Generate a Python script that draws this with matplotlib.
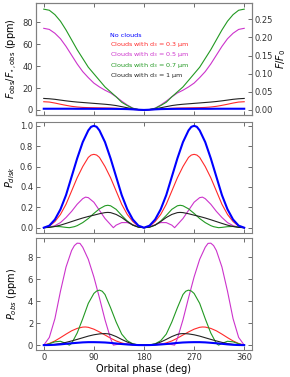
import numpy as np
import matplotlib
matplotlib.use("Agg")
import matplotlib.pyplot as plt

# half orbit (0-180 deg); curves are mirrored about 180 deg
# --- top panel: F_obs / F_star,obs (ppm)
ph_flux = [0, 10, 20, 30, 40, 50, 60, 70, 80, 90, 100, 110, 120, 130, 140, 150, 160, 170, 180]
flux_none = [1.1, 1.1, 1.1, 1.1, 1.1, 1.1, 1.05, 1.05, 1.05, 1.0, 1.0, 1.0, 1.0, 0.95, 0.9, 0.8, 0.55, 0.2, 0.0]
flux_03 = [7.5, 7.2, 6.3, 5.2, 4.2, 3.3, 2.7, 2.3, 2.1, 2.0, 1.9, 1.8, 1.7, 1.5, 1.2, 0.9, 0.5, 0.15, 0.0]
flux_05 = [74.5, 73.5, 70, 65, 58, 50, 42, 35, 29.5, 24.5, 21, 18, 15.5, 12, 8, 4.5, 1.6, 0.4, 0.0]
flux_07 = [92, 91, 87, 81, 73, 64, 55, 47, 39, 33, 27, 21, 16.5, 12, 7, 4, 1.5, 0.4, 0.0]
flux_1 = [10.5, 10.2, 9.7, 9.0, 8.3, 7.7, 7.2, 6.8, 6.4, 6.0, 5.6, 5.2, 4.7, 4.0, 3.0, 2.0, 1.0, 0.3, 0.0]

# --- middle panel: P_disk
ph_disk = [0, 10, 20, 30, 40, 50, 60, 70, 80, 85, 90, 95, 100, 110, 120, 130, 140, 150, 160, 170, 180]
disk_none = [0, 0.02, 0.08, 0.18, 0.32, 0.5, 0.68, 0.84, 0.955, 0.99, 1.0, 0.99, 0.955, 0.84, 0.68, 0.5, 0.32, 0.18, 0.08, 0.02, 0]
disk_03 = [0, 0.015, 0.06, 0.13, 0.23, 0.36, 0.49, 0.6, 0.69, 0.713, 0.72, 0.713, 0.69, 0.6, 0.49, 0.36, 0.23, 0.13, 0.06, 0.015, 0]
ph_disk_05 = [0, 10, 20, 30, 40, 50, 60, 70, 75, 80, 90, 100, 110, 120, 125, 130, 140, 150, 160, 170, 180]
disk_05 = [0, 0.005, 0.02, 0.05, 0.1, 0.16, 0.23, 0.285, 0.3, 0.295, 0.25, 0.17, 0.09, 0.03, 0.0, 0.025, 0.05, 0.05, 0.03, 0.01, 0]
ph_disk_07 = [0, 10, 20, 30, 40, 46, 55, 60, 70, 80, 90, 100, 110, 115, 120, 130, 140, 150, 160, 170, 180]
disk_07 = [0, 0.005, 0.012, 0.01, 0.003, 0.0, 0.01, 0.02, 0.05, 0.09, 0.14, 0.185, 0.215, 0.22, 0.215, 0.18, 0.12, 0.065, 0.025, 0.005, 0]
ph_disk_1 = [0, 10, 20, 30, 40, 50, 60, 70, 80, 90, 100, 110, 115, 120, 130, 140, 150, 160, 170, 180]
disk_1 = [0, 0.003, 0.012, 0.025, 0.042, 0.06, 0.078, 0.095, 0.11, 0.123, 0.137, 0.148, 0.15, 0.148, 0.13, 0.1, 0.06, 0.025, 0.005, 0]

# --- bottom panel: P_obs (ppm)
ph_obs = [0, 10, 20, 30, 40, 50, 60, 70, 80, 90, 100, 110, 120, 130, 140, 150, 160, 170, 180]
obs_none = [0, 0.01, 0.03, 0.07, 0.12, 0.17, 0.21, 0.25, 0.27, 0.27, 0.26, 0.24, 0.2, 0.15, 0.1, 0.06, 0.025, 0.006, 0]
ph_obs_03 = [0, 10, 20, 30, 40, 50, 60, 70, 75, 80, 90, 100, 110, 120, 130, 140, 150, 160, 170, 180]
obs_03 = [0, 0.15, 0.38, 0.68, 1.0, 1.3, 1.52, 1.64, 1.65, 1.62, 1.45, 1.2, 0.92, 0.63, 0.38, 0.2, 0.08, 0.03, 0.005, 0]
ph_obs_05 = [0, 10, 20, 30, 40, 50, 55, 60, 65, 70, 80, 90, 100, 110, 120, 125, 130, 140, 150, 160, 170, 180]
obs_05 = [0, 0.7, 2.4, 4.9, 7.1, 8.6, 9.05, 9.27, 9.25, 8.9, 7.8, 6.2, 4.3, 2.3, 0.6, 0.0, 0.05, 0.12, 0.12, 0.07, 0.02, 0]
ph_obs_07 = [0, 10, 20, 30, 40, 46, 50, 60, 70, 80, 90, 95, 100, 105, 110, 120, 130, 140, 150, 160, 170, 180]
obs_07 = [0, 0.12, 0.3, 0.35, 0.15, 0.0, 0.15, 1.1, 2.4, 3.8, 4.7, 4.92, 5.0, 4.9, 4.6, 3.4, 2.1, 1.0, 0.4, 0.12, 0.02, 0]
ph_obs_1 = [0, 10, 20, 30, 40, 50, 60, 70, 80, 90, 100, 105, 110, 115, 120, 130, 140, 150, 160, 170, 180]
obs_1 = [0, 0.02, 0.07, 0.14, 0.25, 0.38, 0.52, 0.67, 0.82, 0.94, 1.02, 1.04, 1.05, 1.03, 0.98, 0.78, 0.52, 0.28, 0.1, 0.02, 0]

labels = ["No clouds", "Clouds with d$_3$ = 0.3 µm", "Clouds with d$_3$ = 0.5 µm",
          "Clouds with d$_3$ = 0.7 µm", "Clouds with d$_3$ = 1 µm"]
colors = ["#0000ff", "#ff2a2a", "#cc33cc", "#229922", "#222222"]
widths = [1.5, 0.8, 0.8, 0.8, 0.8]


def full(ph, vals):
    # mirror half orbit about 180 deg
    ph = np.asarray(ph, float)
    vals = np.asarray(vals, float)
    return np.concatenate([ph, 360 - ph[::-1][1:]]), np.concatenate([vals, vals[::-1][1:]])


plt.rcParams['font.family'] = 'DejaVu Sans'
plt.rcParams['mathtext.fontset'] = 'dejavusans'
spine_col = '#808080'

fig = plt.figure(figsize=(2.9, 3.77), dpi=100)
left, width = 0.124, 0.745
ax1 = fig.add_axes([left, 0.695, width, 0.297])
ax2 = fig.add_axes([left, 0.382, width, 0.294])
ax3 = fig.add_axes([left, 0.072, width, 0.297])

panels = [
    (ax1, [(ph_flux, flux_none), (ph_flux, flux_03), (ph_flux, flux_05), (ph_flux, flux_07), (ph_flux, flux_1)]),
    (ax2, [(ph_disk, disk_none), (ph_disk, disk_03), (ph_disk_05, disk_05), (ph_disk_07, disk_07), (ph_disk_1, disk_1)]),
    (ax3, [(ph_obs, obs_none), (ph_obs_03, obs_03), (ph_obs_05, obs_05), (ph_obs_07, obs_07), (ph_obs_1, obs_1)]),
]

for ax, series in panels:
    for (ph, v), c, lw, lab in zip(series, colors, widths, labels):
        x, y = full(ph, v)
        ax.plot(x, y, color=c, lw=lw, label=lab, zorder=3 if c == "#0000ff" else 2)
    ax.set_xlim(-14, 374)
    ax.set_xticks([0, 90, 180, 270, 360])
    ax.tick_params(direction='in', labelsize=6, length=3, width=0.5, colors='#333333',
                   top=True, right=True, pad=2)
    for s in ax.spines.values():
        s.set_color(spine_col)
        s.set_linewidth(0.8)

ax1.set_ylim(-4.6, 97.6)
ax1.set_yticks([0, 20, 40, 60, 80])
ax1.tick_params(right=False, labelbottom=False)
ax1.set_ylabel(r'$F_{\rm obs}/F_{\star,\rm obs}$ (ppm)', fontsize=7, labelpad=2)
axr = ax1.twinx()
axr.set_ylim(-0.0138, 0.295)
axr.set_yticks([0, 0.05, 0.10, 0.15, 0.20, 0.25])
axr.set_yticklabels(['0.00', '0.05', '0.10', '0.15', '0.20', '0.25'])
axr.tick_params(direction='in', labelsize=6, length=3, width=0.5, colors='#333333', pad=2)
for s in axr.spines.values():
    s.set_color(spine_col)
    s.set_linewidth(0.8)
axr.set_ylabel(r'$F/F_0$', fontsize=7, labelpad=1)

leg = ax1.legend(loc='upper left', bbox_to_anchor=(0.33, 0.76), frameon=False,
                 handlelength=0, handletextpad=0, fontsize=4.6, labelspacing=0.25,
                 borderaxespad=0)
for h, t, c in zip(leg.legend_handles, leg.get_texts(), colors):
    h.set_visible(False)
    t.set_color(c)

ax2.set_ylim(-0.052, 1.036)
ax2.set_yticks([0, 0.2, 0.4, 0.6, 0.8, 1.0])
ax2.tick_params(labelbottom=False)
ax2.set_ylabel(r'$P_{disk}$', fontsize=7, labelpad=2)

ax3.set_ylim(-0.43, 9.75)
ax3.set_yticks([0, 2, 4, 6, 8])
ax3.set_ylabel(r'$P_{obs}$ (ppm)', fontsize=7, labelpad=6)
ax3.set_xlabel('Orbital phase (deg)', fontsize=7, labelpad=2)

fig.savefig('out.png', dpi=100)
